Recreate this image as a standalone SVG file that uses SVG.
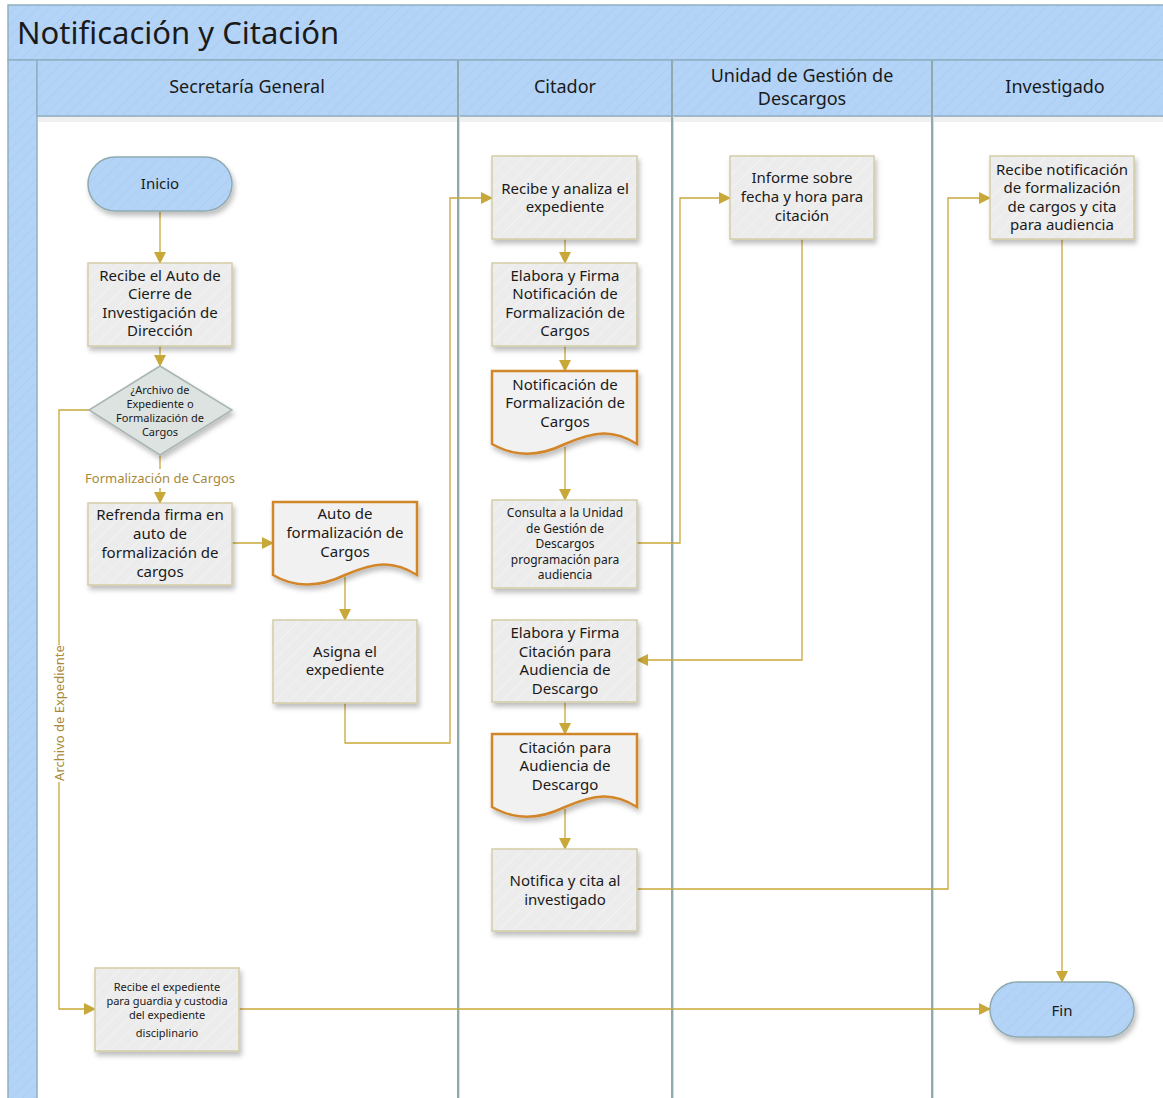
<svg xmlns="http://www.w3.org/2000/svg" width="1163" height="1098" viewBox="0 0 1163 1098">
<defs>
<pattern id="hatchB" width="8" height="8" patternUnits="userSpaceOnUse" patternTransform="rotate(45)">
<rect width="8" height="8" fill="#b3d4f7"/>
<line x1="0" y1="0" x2="0" y2="8" stroke="#a7c9ee" stroke-width="1"/>
</pattern>
<pattern id="hatchG" width="10" height="10" patternUnits="userSpaceOnUse" patternTransform="rotate(45)">
<rect width="10" height="10" fill="#ececec"/>
<line x1="0" y1="0" x2="0" y2="10" stroke="#f4f4f4" stroke-width="1.5"/>
</pattern>
<filter id="sh" x="-10%" y="-10%" width="130%" height="140%">
<feDropShadow dx="2" dy="4" stdDeviation="2.5" flood-color="#000" flood-opacity="0.25"/>
</filter>
<marker id="ah" markerWidth="12" markerHeight="12" refX="11" refY="6" orient="auto" markerUnits="userSpaceOnUse">
<path d="M0,0 L12,6 L0,12 Z" fill="#c9a83a"/>
</marker>
<style>
.hdr{fill:url(#hatchB);stroke:#8fb0c4;stroke-width:1.5}
.lane{fill:none;stroke:#8fa9ad;stroke-width:2}
.box{fill:url(#hatchG);stroke:#d3cba6;stroke-width:1.5;filter:url(#sh)}
.doc{fill:#f1f1f1;stroke:#d2862a;stroke-width:2.5;filter:url(#sh)}
.term{fill:url(#hatchB);stroke:#8faab0;stroke-width:1.5;filter:url(#sh)}
.dia{fill:#dde3e0;stroke:#a9b5b3;stroke-width:1.5;filter:url(#sh)}
.t{font-family:"Noto Sans","Open Sans",sans-serif;font-size:15px;fill:#1a1a1a;text-anchor:middle;dominant-baseline:central}
.ts{font-size:12px}
.txs{font-size:11px}
.hl{font-family:"Noto Sans","Open Sans",sans-serif;font-size:18px;fill:#1a1a1a;text-anchor:middle;dominant-baseline:central}
.c{fill:none;stroke:#c9a83a;stroke-width:1.3}
.cl{font-family:"Noto Sans","Open Sans",sans-serif;font-size:13px;fill:#a8893a;text-anchor:middle;dominant-baseline:central}
</style>
</defs>
<rect width="1163" height="1098" fill="#ffffff"/>
<g id="pool">
<rect x="8" y="5" width="1160" height="55" class="hdr"/>
<text x="17" y="32" font-family="Noto Sans, Open Sans, sans-serif" font-size="31" fill="#1a1a1a" dominant-baseline="central">Notificación y Citación</text>
<rect x="8" y="60" width="29" height="1045" class="hdr"/>
<rect x="37" y="60" width="1130" height="56" class="hdr"/>
<rect x="38" y="116" width="1125" height="6" fill="#000" opacity="0.06"/>
<line x1="458" y1="60" x2="458" y2="1098" class="lane"/>
<line x1="672" y1="60" x2="672" y2="1098" class="lane"/>
<line x1="932" y1="60" x2="932" y2="1098" class="lane"/>
<line x1="459.5" y1="116" x2="459.5" y2="1098" stroke="#d6e0e0" stroke-width="1"/>
<line x1="673.5" y1="116" x2="673.5" y2="1098" stroke="#d6e0e0" stroke-width="1"/>
<line x1="933.5" y1="116" x2="933.5" y2="1098" stroke="#d6e0e0" stroke-width="1"/>
<text x="247" y="86" class="hl">Secretaría General</text>
<text x="565" y="86" class="hl">Citador</text>
<text x="802" y="75" class="hl">Unidad de Gestión de</text>
<text x="802" y="98" class="hl">Descargos</text>
<text x="1055" y="86" class="hl">Investigado</text>
</g>
<g id="connectors">
<path class="c" d="M160,211 V263" marker-end="url(#ah)"/>
<path class="c" d="M160,346 V366" marker-end="url(#ah)"/>
<path class="c" d="M160,455 V469"/>
<path class="c" d="M160,488 V503" marker-end="url(#ah)"/>
<text x="160" y="478" class="cl">Formalización de Cargos</text>
<path class="c" d="M89,410 H59 V645"/>
<path class="c" d="M59,782 V1009 H95" marker-end="url(#ah)"/>
<text x="0" y="0" class="cl" transform="translate(59,713) rotate(-90)">Archivo de Expediente</text>
<path class="c" d="M232,543 H273" marker-end="url(#ah)"/>
<path class="c" d="M345,577 V620" marker-end="url(#ah)"/>
<path class="c" d="M345,703 V743 H450 V198 H492" marker-end="url(#ah)"/>
<path class="c" d="M565,239 V263" marker-end="url(#ah)"/>
<path class="c" d="M565,346 V371" marker-end="url(#ah)"/>
<path class="c" d="M565,447 V500" marker-end="url(#ah)"/>
<path class="c" d="M637,543 H680 V198 H730" marker-end="url(#ah)"/>
<path class="c" d="M802,239 V660 H637" marker-end="url(#ah)"/>
<path class="c" d="M565,702 V734" marker-end="url(#ah)"/>
<path class="c" d="M565,809 V849" marker-end="url(#ah)"/>
<path class="c" d="M637,889 H948 V198 H990" marker-end="url(#ah)"/>
<path class="c" d="M1062,239 V982" marker-end="url(#ah)"/>
<path class="c" d="M239,1009 H990" marker-end="url(#ah)"/>
</g>
<g id="inicio">
<rect x="88" y="157" width="144" height="54" rx="27" class="term"/>
<text x="160" y="183" class="t">Inicio</text>
</g>
<g id="recibe-auto">
<rect x="88" y="263" width="144" height="83" class="box"/>
<text x="160" y="275" class="t">Recibe el Auto de</text>
<text x="160" y="293" class="t">Cierre de</text>
<text x="160" y="312" class="t">Investigación de</text>
<text x="160" y="330" class="t">Dirección</text>
</g>
<g id="decision">
<polygon points="160,366 232,410 160,455 89,410" class="dia"/>
<text x="160" y="389" class="t txs">¿Archivo de</text>
<text x="160" y="403" class="t txs">Expediente o</text>
<text x="160" y="417" class="t txs">Formalización de</text>
<text x="160" y="431" class="t txs">Cargos</text>
</g>
<g id="refrenda">
<rect x="88" y="503" width="144" height="82" class="box"/>
<text x="160" y="514" class="t">Refrenda firma en</text>
<text x="160" y="533" class="t">auto de</text>
<text x="160" y="552" class="t">formalización de</text>
<text x="160" y="571" class="t">cargos</text>
</g>
<g id="auto-doc">
<path class="doc" d="M273,502 H417 V575 C393,560 375,562 345,575 C318,588 295,588 273,575 Z"/>
<text x="345" y="513" class="t">Auto de</text>
<text x="345" y="532" class="t">formalización de</text>
<text x="345" y="551" class="t">Cargos</text>
</g>
<g id="asigna">
<rect x="273" y="620" width="144" height="83" class="box"/>
<text x="345" y="651" class="t">Asigna el</text>
<text x="345" y="669" class="t">expediente</text>
</g>
<g id="recibe-analiza">
<rect x="492" y="156" width="145" height="83" class="box"/>
<text x="565" y="188" class="t">Recibe y analiza el</text>
<text x="565" y="206" class="t">expediente</text>
</g>
<g id="elabora-notif">
<rect x="492" y="263" width="145" height="83" class="box"/>
<text x="565" y="275" class="t">Elabora y Firma</text>
<text x="565" y="293" class="t">Notificación de</text>
<text x="565" y="312" class="t">Formalización de</text>
<text x="565" y="330" class="t">Cargos</text>
</g>
<g id="notif-doc">
<path class="doc" d="M492,371 H637 V444 C613,429 595,431 565,444 C538,457 515,457 492,444 Z"/>
<text x="565" y="384" class="t">Notificación de</text>
<text x="565" y="402" class="t">Formalización de</text>
<text x="565" y="421" class="t">Cargos</text>
</g>
<g id="consulta">
<rect x="492" y="500" width="145" height="88" class="box"/>
<text x="565" y="512" class="t ts">Consulta a la Unidad</text>
<text x="565" y="528" class="t ts">de Gestión de</text>
<text x="565" y="543" class="t ts">Descargos</text>
<text x="565" y="559" class="t ts">programación para</text>
<text x="565" y="574" class="t ts">audiencia</text>
</g>
<g id="elabora-citacion">
<rect x="492" y="620" width="145" height="82" class="box"/>
<text x="565" y="632" class="t">Elabora y Firma</text>
<text x="565" y="651" class="t">Citación para</text>
<text x="565" y="669" class="t">Audiencia de</text>
<text x="565" y="688" class="t">Descargo</text>
</g>
<g id="citacion-doc">
<path class="doc" d="M492,734 H637 V807 C613,792 595,794 565,807 C538,820 515,820 492,807 Z"/>
<text x="565" y="747" class="t">Citación para</text>
<text x="565" y="765" class="t">Audiencia de</text>
<text x="565" y="784" class="t">Descargo</text>
</g>
<g id="notifica">
<rect x="492" y="849" width="145" height="82" class="box"/>
<text x="565" y="880" class="t">Notifica y cita al</text>
<text x="565" y="899" class="t">investigado</text>
</g>
<g id="informe">
<rect x="730" y="156" width="144" height="83" class="box"/>
<text x="802" y="177" class="t">Informe sobre</text>
<text x="802" y="196" class="t">fecha y hora para</text>
<text x="802" y="215" class="t">citación</text>
</g>
<g id="recibe-notif">
<rect x="990" y="156" width="144" height="83" class="box"/>
<text x="1062" y="169" class="t">Recibe notificación</text>
<text x="1062" y="187" class="t">de formalización</text>
<text x="1062" y="206" class="t">de cargos y cita</text>
<text x="1062" y="224" class="t">para audiencia</text>
</g>
<g id="recibe-expediente">
<rect x="95" y="968" width="144" height="83" class="box"/>
<text x="167" y="986" class="t txs">Recibe el expediente</text>
<text x="167" y="1000" class="t txs">para guardia y custodia</text>
<text x="167" y="1014" class="t txs">del expediente</text>
<text x="167" y="1032" class="t txs">disciplinario</text>
</g>
<g id="fin">
<rect x="990" y="982" width="144" height="55" rx="27.5" class="term"/>
<text x="1062" y="1010" class="t">Fin</text>
</g>
</svg>
